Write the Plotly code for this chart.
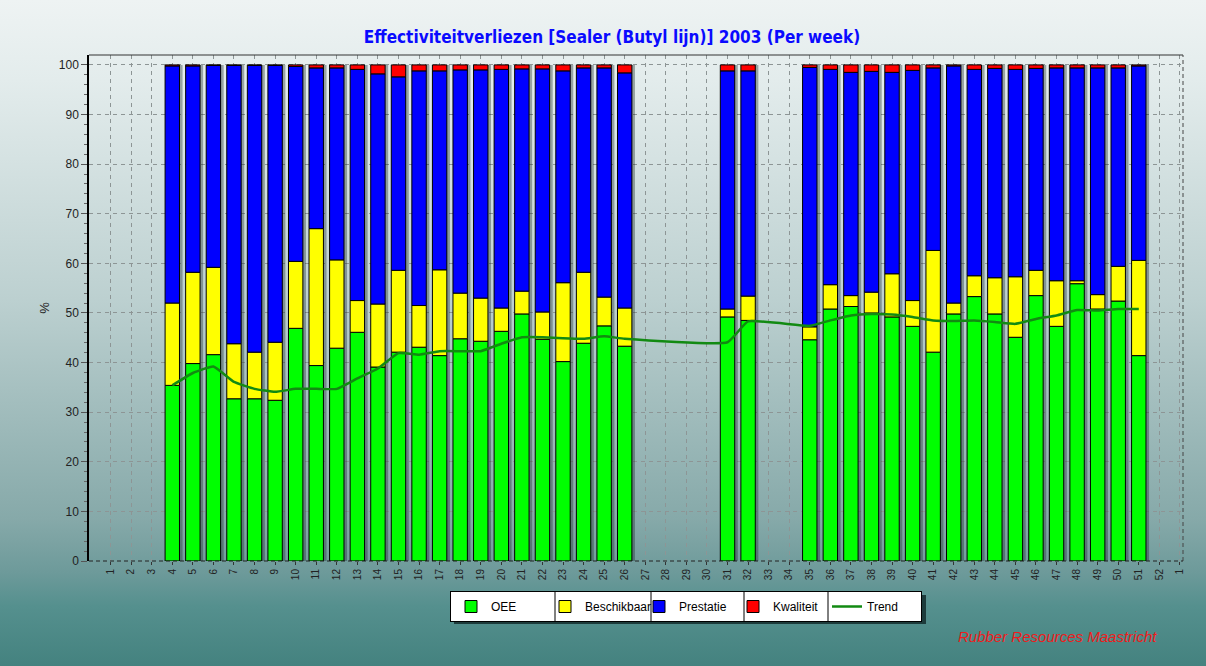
import base64
import plotly.graph_objects as go

N = None
weeks = list(range(1, 54))
week_labels = [str(i) for i in range(1, 53)] + ["1"]

oee = [N, N, N, 35.4, 39.8, 41.6, 32.7, 32.7, 32.4, 46.9, 39.4, 42.9, 46.1, 39.1, 42.1, 43.1, 41.4, 44.8, 44.3,
       46.3, 49.8, 44.7, 40.2, 43.9, 47.4, 43.3, N, N, N, N, 49.2, 48.5, N, N, 44.6, 50.8, 51.3, 50.0, 49.2,
       47.3, 42.1, 49.8, 53.3, 49.8, 45.1, 53.5, 47.3, 55.9, 50.8, 52.4, 41.4, N, N]
beschikbaar = [N, N, N, 16.6, 18.4, 17.6, 11.1, 9.4, 11.7, 13.5, 27.6, 17.8, 6.4, 12.7, 16.5, 8.4, 17.3, 9.2, 8.7,
               4.7, 4.6, 5.5, 15.9, 14.3, 5.8, 7.7, N, N, N, N, 1.6, 4.9, N, N, 2.6, 4.9, 2.2, 4.2, 8.7,
               5.2, 20.5, 2.2, 4.2, 7.3, 12.2, 5.1, 9.2, 0.6, 2.9, 7.0, 19.2, N, N]
prestatie = [N, N, N, 47.8, 41.6, 40.7, 56.1, 57.8, 55.8, 39.3, 32.4, 38.7, 46.6, 46.4, 39.0, 47.3, 40.1, 45.0, 46.0,
             48.1, 44.8, 49.0, 42.7, 41.2, 46.2, 47.4, N, N, N, N, 48.0, 45.4, N, N, 52.3, 43.4, 45.0, 44.5, 40.6,
             46.4, 36.8, 47.8, 41.6, 42.2, 41.8, 40.7, 42.9, 42.9, 45.7, 40.0, 39.2, N, N]
kwaliteit = [N, N, N, 0.2, 0.2, 0.1, 0.1, 0.1, 0.1, 0.3, 0.6, 0.6, 0.9, 1.8, 2.4, 1.2, 1.2, 1.0, 1.0,
             0.9, 0.8, 0.8, 1.2, 0.6, 0.6, 1.6, N, N, N, N, 1.2, 1.2, N, N, 0.5, 0.9, 1.5, 1.3, 1.5,
             1.1, 0.6, 0.2, 0.9, 0.7, 0.9, 0.7, 0.6, 0.6, 0.6, 0.6, 0.2, N, N]
trend = [N, N, N, 35.4, 37.9, 39.2, 36.1, 34.7, 34.1, 34.7, 34.7, 34.7, 36.8, 38.8, 41.9, 41.6, 42.3, 42.3, 42.3,
         43.8, 45.1, 45.1, 44.9, 44.8, 45.3, 44.8, N, N, N, N, 44.1, 48.3, N, N, 47.4, 48.5, 49.5, 49.8, 49.7,
         49.2, 48.5, 48.4, 48.5, 48.2, 47.8, 48.8, 49.5, 50.6, 50.5, 50.8, 50.8, N, N]

W, H = 1206, 666
ML, MR, MT, MB = 89, 23, 55, 105
PW, PH = W - ML - MR, H - MT - MB


def acc(*cols):
    out = []
    for vals in zip(*cols):
        out.append(None if vals[0] is None else sum(vals))
    return out


base_b = acc(oee)
base_p = acc(oee, beschikbaar)
base_k = acc(oee, beschikbaar, prestatie)
total = acc(oee, beschikbaar, prestatie, kwaliteit)

BW = 0.7
fig = go.Figure()
# bar shadows
fig.add_trace(go.Bar(x=weeks, y=total, base=0, width=BW, offset=-BW / 2 + 0.15,
                     marker=dict(color="rgba(30,45,45,0.38)", line=dict(width=0)),
                     showlegend=False, hoverinfo="skip"))
series = [("OEE", oee, [0] * 53, "#00ff00"),
          ("Beschikbaar", beschikbaar, base_b, "#ffff00"),
          ("Prestatie", prestatie, base_p, "#0000ff"),
          ("Kwaliteit", kwaliteit, base_k, "#ff0000")]
for name, vals, base, col in series:
    fig.add_trace(go.Bar(x=weeks, y=vals, base=base, name=name, width=BW, offset=-BW / 2,
                         marker=dict(color=col, line=dict(color="#000000", width=1))))
fig.add_trace(go.Scatter(x=weeks, y=trend, name="Trend", mode="lines", connectgaps=True,
                         line=dict(color="#128a12", width=2.5, shape="spline", smoothing=0.4)))

stops = [(0.0, "#eef3f3"), (0.12, "#e3ecec"), (0.45, "#bcd0d0"), (0.78, "#86a9a9"),
         (0.86, "#6d9a9a"), (0.91, "#55908e"), (1.0, "#44827f")]
stop_xml = "".join(f'<stop offset="{o}" stop-color="{c}"/>' for o, c in stops)
svg = (f'<svg xmlns="http://www.w3.org/2000/svg" width="{W}" height="{H}" preserveAspectRatio="none">'
       f'<defs><linearGradient id="g" x1="0" y1="0" x2="0" y2="1">{stop_xml}</linearGradient></defs>'
       f'<rect width="{W}" height="{H}" fill="url(#g)"/></svg>')
src = "data:image/svg+xml;base64," + base64.b64encode(svg.encode()).decode()


def px_x(p):
    return (p - ML) / PW


def px_y(p):
    return (H - MB - p) / PH


LEG_L, LEG_T, LEG_H, LEG_W = 450, 591, 29, 472
shapes = [
    dict(type="line", xref="paper", yref="paper", x0=0, x1=1, y0=1, y1=1, line=dict(color="#333333", width=1)),
    dict(type="line", xref="paper", yref="paper", x0=1, x1=1, y0=0, y1=1,
         line=dict(color="#444444", width=1, dash="4px,3px")),
    dict(type="line", xref="paper", yref="paper", x0=0, x1=1, y0=0, y1=0,
         line=dict(color="#222222", width=1, dash="4px,3px")),
    dict(type="rect", xref="paper", yref="paper", x0=px_x(LEG_L + 4), x1=px_x(LEG_L + LEG_W + 4),
         y0=px_y(LEG_T + 4), y1=px_y(LEG_T + LEG_H + 4), fillcolor="#1d3b3b", line=dict(width=0), layer="above"),
]

fig.update_layout(
    width=W, height=H,
    margin=dict(l=ML, r=MR, t=MT, b=MB),
    paper_bgcolor="#9fbdbd",
    plot_bgcolor="rgba(0,0,0,0)",
    barmode="overlay",
    images=[dict(source=src, xref="paper", yref="paper", x=-ML / PW, y=1 + MT / PH,
                 sizex=W / PW, sizey=H / PH, sizing="stretch", xanchor="left", yanchor="top",
                 layer="below")],
    title=dict(text="Effectiviteitverliezen [Sealer (Butyl lijn)] 2003 (Per week)",
               x=612 / W, xref="container", xanchor="center",
               y=(H - 37) / H, yref="container", yanchor="middle",
               font=dict(family="Liberation Sans Narrow, DejaVu Sans Condensed, Arial Narrow, sans-serif",
                         size=17, color="#0a0aff", weight="bold")),
    xaxis=dict(range=[-0.05, 53.15], tickmode="array", tickvals=weeks, ticktext=week_labels,
               tickangle=-90, tickfont=dict(family="Liberation Sans, Arial, sans-serif", size=10, color="#222222"),
               showgrid=True, gridcolor="#8d9595", griddash="4px,4px", gridwidth=1,
               ticks="outside", ticklen=3, tickcolor="#333333", showline=False, zeroline=False),
    yaxis=dict(range=[0, 102], tickmode="array", tickvals=list(range(0, 101, 10)),
               tickfont=dict(family="Liberation Sans, Arial, sans-serif", size=12, color="#222222"),
               showgrid=True, gridcolor="#8d9595", griddash="4px,4px", gridwidth=1,
               ticks="outside", ticklen=6, tickcolor="#555555",
               minor=dict(tickvals=list(range(0, 101, 2)), ticks="outside", ticklen=3, tickcolor="#666666",
                          showgrid=False),
               showline=True, linecolor="#000000", linewidth=1.5, zeroline=False,
               title=dict(text="%", standoff=6,
                          font=dict(family="Liberation Sans, Arial, sans-serif", size=13, color="#222222"))),
    legend=dict(orientation="h", x=px_x(LEG_L), y=px_y(LEG_T), xanchor="left", yanchor="top",
                bgcolor="#ffffff", bordercolor="#000000", borderwidth=1,
                entrywidth=49, entrywidthmode="pixels", itemwidth=30,
                font=dict(family="Liberation Sans, Arial, sans-serif", size=12, color="#000000"),
                traceorder="normal"),
    shapes=shapes,
    annotations=[dict(text="Rubber Resources Maastricht", xref="paper", yref="paper",
                      x=px_x(1057), y=px_y(636), xanchor="center", yanchor="middle", showarrow=False,
                      font=dict(family="Liberation Sans, Arial, sans-serif", size=15, color="#ee1c1c",
                                style="italic"))],
    showlegend=True,
)

# thin cell dividers inside the legend box (drawn over it via a post script)
divider_px = [555, 651, 744, 828]
js = "document.body.style.margin='0';\n"
js += ("var gd=document.getElementById('{plot_id}');"
       "var lg=gd.querySelector('g.legend');"
       "if(lg){var bb=lg.querySelector('rect.bg');var tr=lg.getAttribute('transform');"
       "var m=/translate\\(([-\\d.]+)[ ,]+([-\\d.]+)\\)/.exec(tr);var lx=m?parseFloat(m[1]):0;var ly=m?parseFloat(m[2]):0;"
       "var h=bb?parseFloat(bb.getAttribute('height')):29;"
       f"[{','.join(str(d) for d in divider_px)}].forEach(function(px){{"
       "var ln=document.createElementNS('http://www.w3.org/2000/svg','line');"
       "ln.setAttribute('x1',px-lx);ln.setAttribute('x2',px-lx);ln.setAttribute('y1',0);ln.setAttribute('y2',h);"
       "ln.setAttribute('stroke','#000');ln.setAttribute('stroke-width','1');lg.appendChild(ln);});}")

fig.write_html("out.html", config={"displayModeBar": False}, post_script=js)
